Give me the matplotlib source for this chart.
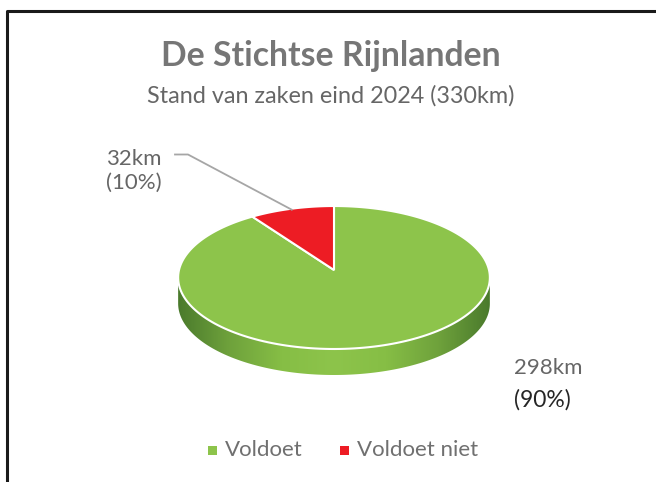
import numpy as np
import matplotlib
matplotlib.use("Agg")
import matplotlib.pyplot as plt
from matplotlib.patches import Polygon, Rectangle
from matplotlib.colors import LinearSegmentedColormap

# ---- data ----
categories = ["Voldoet", "Voldoet niet"]
values_km = [298, 32]
percent_labels = ["90%", "10%"]
title = "De Stichtse Rijnlanden"
subtitle = "Stand van zaken eind 2024 (330km)"
colors = ["#8DC44B", "#ED1C24"]

W, H = 656, 482
fig = plt.figure(figsize=(W / 100, H / 100), dpi=100)
ax = fig.add_axes([0, 0, 1, 1])
ax.set_xlim(0, W)
ax.set_ylim(H, 0)
ax.axis("off")

FONT = ["Lato", "DejaVu Sans"]

# frame (left and top only visible)
ax.plot([6.5, 6.5, W + 5], [H + 5, 10.5, 10.5], color="#1a1a1a", lw=2.2, solid_capstyle="butt")

# titles
ax.text(331, 56, title, ha="center", va="center", fontsize=24.3, fontweight="bold",
        color="#767676", family=FONT)
ax.text(331, 96, subtitle, ha="center", va="center", fontsize=16.8,
        color="#666666", family=FONT)

# ---- 3D pie geometry (simple perspective) ----
cx, cy, rx, ry, depth, k = 334, 270, 155, 70.7, 26, 0.105
total = sum(values_km)
fracs = [v / total for v in values_km]


def pt(theta, dy=0.0):
    u, v = np.sin(theta), np.cos(theta)
    s = 1.0 + k * v
    return cx + rx * u / s, cy - ry * v / s + dy

# side (front part)
a0 = np.arccos(-k)
th = np.linspace(a0, 2 * np.pi - a0, 300)
xt, yt = pt(th)
xb, yb = pt(th[::-1], depth)
side = Polygon(np.column_stack([np.r_[xt, xb], np.r_[yt, yb]]), closed=True,
               facecolor="none", edgecolor="none")
ax.add_patch(side)
cmap = LinearSegmentedColormap.from_list(
    "side", ["#4A7A2C", "#6FA23C", "#86BE45", "#8DC44B", "#86BE45", "#6FA23C", "#4A7A2C"])
grad = np.linspace(0, 1, 400)[None, :]
im = ax.imshow(grad, cmap=cmap, extent=[cx - rx - 2, cx + rx + 2, cy + ry + depth + 12, cy - 10],
               aspect="auto", zorder=1)
im.set_clip_path(side)
ax.set_xlim(0, W)
ax.set_ylim(H, 0)

# top face wedges
start = 0.0
mids = []
for f, c in zip(fracs, colors):
    end = start + 2 * np.pi * f
    t = np.linspace(start, end, 200)
    xs, ys = pt(t)
    poly = Polygon(np.column_stack([np.r_[cx, xs], np.r_[cy, ys]]), closed=True,
                   facecolor=c, edgecolor="white", lw=1.5, joinstyle="miter", zorder=3)
    ax.add_patch(poly)
    mids.append((start + end) / 2)
    start = end

# data labels
lab_col = "#666666"
ax.text(106, 171, f"{values_km[1]}km\n({percent_labels[1]})", ha="left", va="center",
        fontsize=16, color=lab_col, family=FONT, linespacing=1.25)
# leader line to small slice
ex, ey = pt(mids[1])
ax.plot([175, 188, ex], [154.5, 154.5, ey + 1], color="#A6A6A6", lw=1.3, zorder=4)

ax.text(514, 368, f"{values_km[0]}km", ha="left", va="center", fontsize=16,
        color=lab_col, family=FONT)
ax.text(514, 400, f"({percent_labels[0]})", ha="left", va="center", fontsize=16.5,
        color="#262626", family=FONT)

# legend
lx = [208, 340]
for x0, c, name in zip(lx, colors, categories):
    ax.add_patch(Rectangle((x0, 446), 9, 9, facecolor=c, edgecolor="none"))
    ax.text(x0 + 17, 450, name, ha="left", va="center", fontsize=16,
            color="#707070", family=FONT)

fig.savefig("out.png", dpi=100)
